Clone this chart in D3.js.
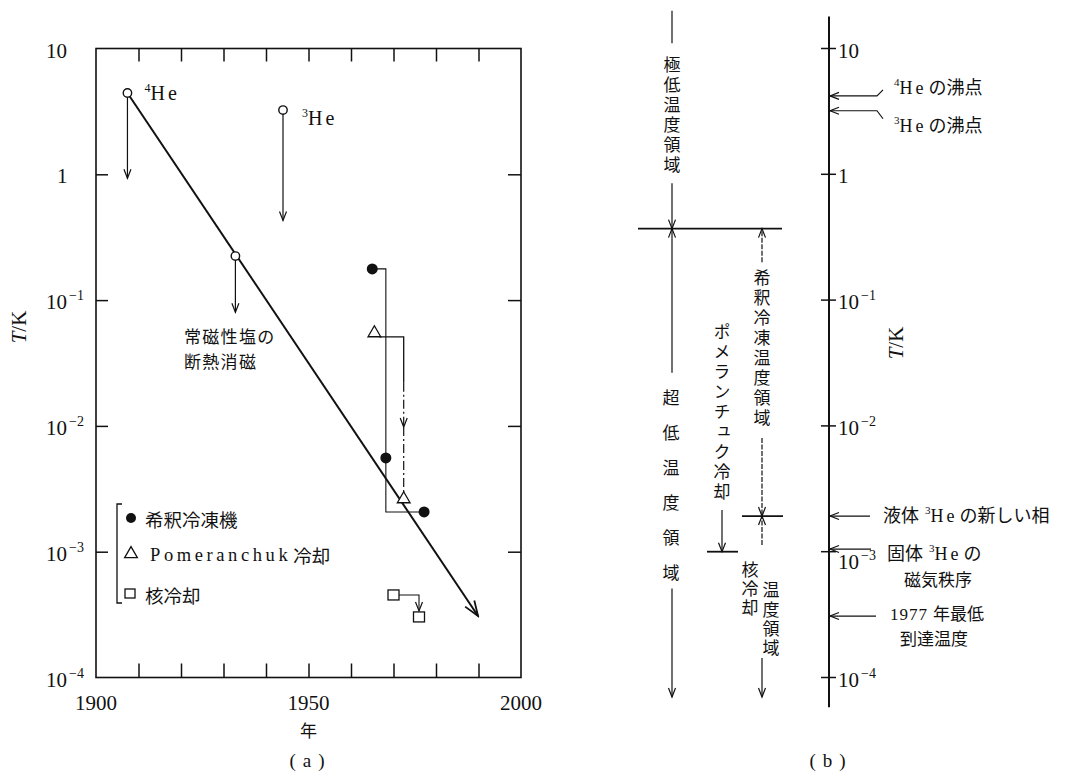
<!DOCTYPE html>
<html><head><meta charset="utf-8">
<script src="https://cdn.jsdelivr.net/npm/d3@7"></script>
<style>body{margin:0;background:#fff}svg{display:block}</style>
</head><body>
<svg id="c" width="1076" height="783"></svg>
<script>
// ---------------- data ----------------
const yearDomain = [1900, 2000];
const tempDomain = [10, 1e-4];
const yearTicks = [1910, 1920, 1930, 1940, 1950, 1960, 1970, 1980, 1990];
const yearLabels = [1900, 1950, 2000];
const tempTicks = [10, 1, 0.1, 0.01, 0.001, 0.0001];
const tempTickExp = [1, 0, -1, -2, -3, -4];

// helium liquefaction / adiabatic demagnetisation (open circles)
const heYears = [1907.4, 1932.8, 1944];
const heTemps = [4.43, 0.224, 3.24];
const heArrowTo = [0.93, 0.08, 0.43];

// trend line
const trendYears = [1907.4, 1989.9];
const trendTemps = [4.43, 3.08e-4];

// dilution refrigerator (filled circles)
const dilYears = [1965, 1968.2, 1977.2];
const dilTemps = [0.177, 5.56e-3, 2.07e-3];

// Pomeranchuk cooling (triangles)
const pomYears = [1965.5, 1972.4];
const pomTemps = [0.0547, 2.62e-3];
const pomLineTemp = 0.051, pomSolidEnd = 0.022, pomArrowTemp = 0.0098;

// nuclear cooling (squares)
const nucYears = [1970, 1976];
const nucTemps = [4.53e-4, 3.03e-4];

// legend
const legendLabels = ["希釈冷凍機", "Pomeranchuk 冷却", "核冷却"];

// panel (b) markers on the temperature scale
const bMarkTemps = [4.2, 3.2, 1.92e-3, 1.05e-3, 3.08e-4];
const bAxisRange = [18, 5.8e-5];
// panel (b) region boundaries
const bBoundHigh = 0.37, bBoundDil = 1.92e-3, bBoundPom = 1.0e-3, bBottom = 7e-5;

// ---------------- setup ----------------
const svg = d3.select("#c");
const serif = "'Liberation Serif','Noto Sans CJK JP',serif";
const jp = "'Noto Sans CJK JP','Liberation Serif',sans-serif";
const ink = "#111";

const x = d3.scaleLinear().domain(yearDomain).range([96, 521]);
const y = d3.scaleLog().domain(tempDomain).range([48.5, 677.5]);

const defs = svg.append("defs");
function mk(id, len, half, sw) {
  defs.append("marker").attr("id", id)
    .attr("viewBox", `${-len-2} ${-half-2} ${len+4} ${2*half+4}`)
    .attr("refX", 0).attr("refY", 0)
    .attr("markerWidth", len + 4).attr("markerHeight", 2*half + 4)
    .attr("markerUnits", "userSpaceOnUse").attr("orient", "auto")
    .append("path").attr("d", `M${-len},${-half}L0,0L${-len},${half}`)
    .attr("fill", "none").attr("stroke", ink).attr("stroke-width", sw);
}
mk("aBig", 15, 5.5, 1.8);
mk("aSm", 9, 3.5, 1.2);

// ---------------- panel (a) ----------------
const ga = svg.append("g");
ga.append("rect").attr("x", x(1900)).attr("y", y(10))
  .attr("width", x(2000) - x(1900)).attr("height", y(1e-4) - y(10))
  .attr("fill", "none").attr("stroke", ink).attr("stroke-width", 1.6);

function styleAxis(g) {
  g.select(".domain").remove();
  g.selectAll("line").attr("stroke", ink).attr("stroke-width", 1.5);
  g.selectAll("text").remove();
}
const innerT = tempTicks.slice(1, -1);
ga.append("g").attr("transform", `translate(${x(1900)},0)`)
  .call(d3.axisRight(y).tickValues(innerT).tickSize(12).tickFormat("")).call(styleAxis);
ga.append("g").attr("transform", `translate(${x(2000)},0)`)
  .call(d3.axisLeft(y).tickValues(innerT).tickSize(13).tickFormat("")).call(styleAxis);
ga.append("g").attr("transform", `translate(0,${y(10)})`)
  .call(d3.axisBottom(x).tickValues(yearTicks).tickSize(13).tickFormat("")).call(styleAxis);
ga.append("g").attr("transform", `translate(0,${y(1e-4)})`)
  .call(d3.axisTop(x).tickValues(yearTicks).tickSize(14).tickFormat("")).call(styleAxis);

function tempLabel(g, x0, yy, e, oneX) {
  const t = g.append("text").attr("x", x0).attr("y", yy)
    .attr("font-family", serif).attr("font-size", 21).attr("fill", ink);
  if (e === 0) { t.attr("x", oneX).text("1"); return; }
  t.append("tspan").text("10");
  if (e !== 1) {
    t.append("tspan").attr("dx", 2).attr("dy", -9).attr("font-size", 14).text("−" + Math.abs(e));
  }
}
tempTicks.forEach((v, i) => tempLabel(ga, 46, y(v) + 9, tempTickExp[i], 57));

yearLabels.forEach(v => ga.append("text").attr("x", x(v)).attr("y", 710)
  .attr("text-anchor", "middle").attr("font-family", serif).attr("font-size", 21)
  .attr("fill", ink).text(v));
ga.append("text").attr("x", x(1950)).attr("y", 729).attr("text-anchor", "middle")
  .attr("dominant-baseline", "central").attr("font-family", jp).attr("font-size", 17)
  .attr("fill", ink).text("年");
ga.append("text").attr("x", x(1950) + 2).attr("y", 760).attr("text-anchor", "middle")
  .attr("dominant-baseline", "central").attr("font-family", serif).attr("font-size", 19)
  .attr("letter-spacing", 7).attr("fill", ink).text("(a)");

// y title
const yt = ga.append("text").attr("transform", "translate(26,327) rotate(-90)")
  .attr("text-anchor", "middle").attr("font-family", serif).attr("font-size", 21).attr("fill", ink);
yt.append("tspan").attr("font-style", "italic").text("T");
yt.append("tspan").text("/K");

// trend line
ga.append("line").attr("x1", x(trendYears[0])).attr("y1", y(trendTemps[0]))
  .attr("x2", x(trendYears[1])).attr("y2", y(trendTemps[1]))
  .attr("stroke", ink).attr("stroke-width", 2).attr("marker-end", "url(#aBig)");

// helium arrows + circles
heYears.forEach((yr, i) => {
  ga.append("line").attr("x1", x(yr)).attr("y1", y(heTemps[i]) + 4)
    .attr("x2", x(yr)).attr("y2", y(heArrowTo[i]))
    .attr("stroke", ink).attr("stroke-width", 1.2).attr("marker-end", "url(#aSm)");
});
ga.selectAll(".he").data(heYears).join("circle")
  .attr("cx", d => x(d)).attr("cy", (d, i) => y(heTemps[i])).attr("r", 4.2)
  .attr("fill", "#fff").attr("stroke", ink).attr("stroke-width", 1.4);

function isoLabel(g, x0, yc, mass) {
  const t = g.append("text").attr("x", x0).attr("y", yc + 7)
    .attr("font-family", serif).attr("font-size", 20).attr("fill", ink);
  t.append("tspan").attr("font-size", 12).attr("dy", -8).text(mass);
  t.append("tspan").attr("dy", 8).attr("letter-spacing", 3).text("He");
}
isoLabel(ga, x(heYears[0]) + 17, y(heTemps[0]), "4");
isoLabel(ga, x(heYears[2]) + 19, y(heTemps[2]) + 8, "3");

// 常磁性塩の断熱消磁
["常磁性塩の", "断熱消磁"].forEach((s, i) => ga.append("text")
  .attr("x", 184).attr("y", 335 + i * 25).attr("dominant-baseline", "central")
  .attr("font-family", jp).attr("font-size", 17).attr("letter-spacing", 1.3).attr("fill", ink).text(s));

// dilution path
const dilPath = d3.line()([
  [x(dilYears[0]), y(dilTemps[0])],
  [x(dilYears[1]), y(dilTemps[0])],
  [x(dilYears[1]), y(dilTemps[2])],
  [x(dilYears[2]), y(dilTemps[2])]
]);
ga.append("path").attr("d", dilPath).attr("fill", "none").attr("stroke", ink).attr("stroke-width", 1.1);
ga.selectAll(".dil").data(dilYears).join("circle")
  .attr("cx", d => x(d)).attr("cy", (d, i) => y(dilTemps[i])).attr("r", 5.5).attr("fill", ink);

// Pomeranchuk path
const tri = d3.symbol().type(d3.symbolTriangle).size(70);
ga.append("path").attr("d", d3.line()([
  [x(pomYears[0]) + 5, y(pomLineTemp)], [x(pomYears[1]), y(pomLineTemp)], [x(pomYears[1]), y(pomSolidEnd)]
])).attr("fill", "none").attr("stroke", ink).attr("stroke-width", 1.3);
ga.append("line").attr("x1", x(pomYears[1])).attr("y1", y(pomSolidEnd))
  .attr("x2", x(pomYears[1])).attr("y2", y(pomArrowTemp))
  .attr("stroke", ink).attr("stroke-width", 1.2).attr("stroke-dasharray", "9,3,2,3")
  .attr("marker-end", "url(#aSm)");
ga.append("line").attr("x1", x(pomYears[1])).attr("y1", y(pomArrowTemp))
  .attr("x2", x(pomYears[1])).attr("y2", y(pomTemps[1]) - 5)
  .attr("stroke", ink).attr("stroke-width", 1.2).attr("stroke-dasharray", "9,3,2,3");
ga.selectAll(".pom").data(pomYears).join("path").attr("d", tri)
  .attr("transform", (d, i) => `translate(${x(d)},${y(pomTemps[i])})`)
  .attr("fill", "#fff").attr("stroke", ink).attr("stroke-width", 1.3);

// nuclear cooling path
ga.append("path").attr("d", d3.line()([
  [x(nucYears[0]) + 5, y(nucTemps[0])], [x(nucYears[1]), y(nucTemps[0])], [x(nucYears[1]), y(nucTemps[1]) - 6]
])).attr("fill", "none").attr("stroke", ink).attr("stroke-width", 1.1).attr("marker-end", "url(#aSm)");
ga.selectAll(".nuc").data(nucYears).join("rect")
  .attr("x", d => x(d) - 5.5).attr("y", (d, i) => y(nucTemps[i]) - 5)
  .attr("width", 11).attr("height", 10)
  .attr("fill", "#fff").attr("stroke", ink).attr("stroke-width", 1.3);

// legend
const lg = ga.append("g");
lg.append("path").attr("d", "M122,504H117V603H122").attr("fill", "none").attr("stroke", ink).attr("stroke-width", 1.3);
const legY = [518, 554, 594];
lg.append("circle").attr("cx", 131).attr("cy", legY[0]).attr("r", 5).attr("fill", ink);
lg.append("path").attr("d", tri).attr("transform", `translate(131,${legY[1]})`)
  .attr("fill", "#fff").attr("stroke", ink).attr("stroke-width", 1.3);
lg.append("rect").attr("x", 125).attr("y", legY[2] - 5).attr("width", 10).attr("height", 9)
  .attr("fill", "#fff").attr("stroke", ink).attr("stroke-width", 1.3);
legendLabels.forEach((s, i) => {
  const t = lg.append("text").attr("x", i === 1 ? 150 : 145).attr("y", legY[i] + 1)
    .attr("dominant-baseline", "central").attr("font-family", serif)
    .attr("font-size", 18.5).attr("fill", ink);
  if (i === 1) {
    t.append("tspan").attr("letter-spacing", 3.6).text("Pomeranchuk");
    t.append("tspan").attr("font-family", jp).attr("dx", 2).text("冷却");
  } else {
    t.attr("font-family", jp).text(s);
  }
});

// ---------------- panel (b) ----------------
const gb = svg.append("g");
const bx = 829;
gb.append("line").attr("x1", bx).attr("x2", bx).attr("y1", y(bAxisRange[0])).attr("y2", y(bAxisRange[1]))
  .attr("stroke", ink).attr("stroke-width", 2);
gb.selectAll(".bt").data(tempTicks).join("line")
  .attr("x1", bx - 8).attr("x2", bx + 7).attr("y1", d => y(d)).attr("y2", d => y(d))
  .attr("stroke", ink).attr("stroke-width", 1.5);
tempTicks.forEach((v, i) => tempLabel(gb, 838, y(v) + 9 + (tempTickExp[i] === -3 ? 8 : 0), tempTickExp[i], 838));

const yt2 = gb.append("text").attr("transform", "translate(903,343) rotate(-90)")
  .attr("text-anchor", "middle").attr("font-family", serif).attr("font-size", 21).attr("fill", ink);
yt2.append("tspan").attr("font-style", "italic").text("T");
yt2.append("tspan").text("/K");

gb.append("text").attr("x", 831).attr("y", 760).attr("text-anchor", "middle")
  .attr("dominant-baseline", "central").attr("font-family", serif).attr("font-size", 19)
  .attr("letter-spacing", 7).attr("fill", ink).text("(b)");

// boiling points
[[bMarkTemps[0], -6], [bMarkTemps[1], 8]].forEach(([t, d]) => {
  gb.append("path").attr("d", d3.line()([[883, y(t) + d], [877, y(t)], [bx + 1, y(t)]]))
    .attr("fill", "none").attr("stroke", ink).attr("stroke-width", 1.2).attr("marker-end", "url(#aSm)");
});
[[bMarkTemps[2], 870], [bMarkTemps[3], 871], [bMarkTemps[4], 876]].forEach(([t, x0]) => {
  gb.append("line").attr("x1", x0).attr("x2", bx + 1).attr("y1", y(t)).attr("y2", y(t))
    .attr("stroke", ink).attr("stroke-width", 1.2).attr("marker-end", "url(#aSm)");
});

function richLabel(g, x0, yc, parts, fs) {
  const t = g.append("text").attr("x", x0).attr("y", yc + 6)
    .attr("font-family", serif).attr("font-size", fs || 18).attr("fill", ink);
  parts.forEach(p => {
    const s = t.append("tspan").text(p.t);
    if (p.sup) s.attr("font-size", 11).attr("dy", -8);
    if (p.after) s.attr("dy", 8);
    if (p.ls) s.attr("letter-spacing", p.ls);
    if (p.jp) s.attr("font-family", jp);
    if (p.dx) s.attr("dx", p.dx);
  });
}
richLabel(gb, 894, 88, [{t: "4", sup: 1}, {t: "He", after: 1, ls: 3}, {t: "の沸点", jp: 1, dx: 2}]);
richLabel(gb, 894, 126, [{t: "3", sup: 1}, {t: "He", after: 1, ls: 3}, {t: "の沸点", jp: 1, dx: 2}]);
richLabel(gb, 883, 516, [{t: "液体", jp: 1}, {t: "3", sup: 1, dx: 6}, {t: "He", after: 1, ls: 3}, {t: "の新しい相", jp: 1, dx: 2}]);
richLabel(gb, 887, 554, [{t: "固体", jp: 1}, {t: "3", sup: 1, dx: 6}, {t: "He", after: 1, ls: 3}, {t: "の", jp: 1, dx: 2}]);
richLabel(gb, 904, 580, [{t: "磁気秩序", jp: 1}], 17);
richLabel(gb, 890, 614, [{t: "1977", ls: 1}, {t: "年最低", jp: 1, dx: 5}], 17);
richLabel(gb, 900, 639, [{t: "到達温度", jp: 1}], 17);

// region boundaries
const bLines = [[bBoundHigh, 638, 782], [bBoundDil, 742, 783], [bBoundPom, 707, 738]];
bLines.forEach(([t, a, b]) => gb.append("line").attr("x1", a).attr("x2", b)
  .attr("y1", y(t)).attr("y2", y(t)).attr("stroke", ink).attr("stroke-width", 1.8));

// range arrows [x, fromTemp, toTemp, dotted, arrow]
const bSegs = [
  [672, 20, 11, false, false],
  [672, 0.85, bBoundHigh, false, true],
  [672, 0.0264, bBoundHigh, false, true],
  [672, 5.1e-4, bBottom, false, true],
  [762, 0.2, bBoundHigh, true, true],
  [762, 8e-3, bBoundDil, true, true],
  [762, 1.13e-3, bBoundDil, true, true],
  [762, 1.43e-4, bBottom, false, true],
  [722, 2.15e-3, bBoundPom, false, true]
];
bSegs.forEach(([xx, a, b, dot, arr]) => {
  const l = gb.append("line").attr("x1", xx).attr("x2", xx).attr("y1", y(a)).attr("y2", y(b))
    .attr("stroke", ink).attr("stroke-width", 1.2);
  if (dot) l.attr("stroke-dasharray", "5,1.5");
  if (arr) l.attr("marker-end", "url(#aSm)");
});

function vcol(str, cx, y0, step, size) {
  [...str].forEach((ch, i) => gb.append("text")
    .attr("x", cx).attr("y", y0 + i * step)
    .attr("text-anchor", "middle").attr("dominant-baseline", "central")
    .style("writing-mode", "vertical-rl")
    .attr("font-family", jp).attr("font-size", size).attr("fill", ink).text(ch));
}
vcol("極低温度領域", 672, 65, 20, 17);
vcol("超低温度領域", 671, 398, 35, 17);
vcol("希釈冷凍温度領域", 762, 278, 20, 17);
vcol("ポメランチュク冷却", 722, 332, 20, 17);
vcol("核冷却", 750, 570, 19, 17);
vcol("温度領域", 771, 590, 19.3, 17);
</script>
</body></html>
